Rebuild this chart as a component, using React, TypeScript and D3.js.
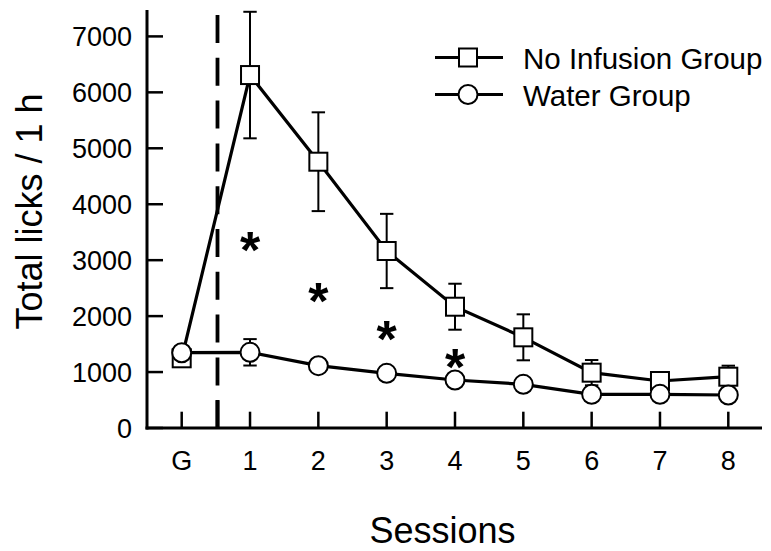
import React from "react";
import * as d3 from "d3";

const sessions = ["G", "1", "2", "3", "4", "5", "6", "7", "8"];
const noInfusionMean = [1246, 6309, 4760, 3164, 2168, 1621, 989, 840, 917];
const noInfusionErr = [0, 1131, 883, 664, 411, 411, 226, 50, 197];
const waterMean = [1346, 1353, 1114, 977, 858, 781, 602, 602, 590];
const waterErr = [0, 236, 60, 40, 40, 40, 30, 30, 30];
const yTicks = [0, 1000, 2000, 3000, 4000, 5000, 6000, 7000];
const asteriskSessions = [1, 2, 3, 4];
const asteriskValues = [3330, 2436, 1751, 1251];
const legendLabels = ["No Infusion Group", "Water Group"];

const W = 771;
const H = 551;
const FONT = "'Liberation Sans', Arial, Helvetica, sans-serif";

export default function App() {
  const x = d3.scaleLinear().domain([0, 8]).range([181.7, 728.3]);
  const y = d3.scaleLinear().domain([0, 7000]).range([428, 36.4]);
  const axisLeft = 147;
  const axisRight = 762;
  const axisTop = y(7470);
  const base = y(0);

  const line = d3
    .line<number>()
    .x((_, i) => x(i))
    .y((v) => y(v));

  const sqSide = 18;
  const r = 9.5;
  const capHalf = 6.7;

  const errBars = (means: number[], errs: number[], key: string) =>
    means.map((m, i) =>
      errs[i] > 0 ? (
        <g key={key + i} stroke="#000" strokeWidth={2}>
          <line x1={x(i)} x2={x(i)} y1={y(m + errs[i])} y2={y(m - errs[i])} />
          <line x1={x(i) - capHalf} x2={x(i) + capHalf} y1={y(m + errs[i])} y2={y(m + errs[i])} />
          <line x1={x(i) - capHalf} x2={x(i) + capHalf} y1={y(m - errs[i])} y2={y(m - errs[i])} />
        </g>
      ) : null
    );

  const astFs = 52;

  return (
    <svg
      width={W}
      height={H}
      style={{ position: "absolute", left: 0, top: 0, background: "#fff" }}
      fontFamily={FONT}
    >
      <rect x={0} y={0} width={W} height={H} fill="#fff" />
      {/* dashed separator */}
      <line
        x1={217.5}
        x2={217.5}
        y1={15}
        y2={base}
        stroke="#000"
        strokeWidth={3.8}
        strokeDasharray="28,14.8"
      />
      {/* axes */}
      <line x1={axisLeft} x2={axisLeft} y1={axisTop} y2={base + 1.5} stroke="#000" strokeWidth={3} />
      <line x1={axisLeft - 1.5} x2={axisRight} y1={base} y2={base} stroke="#000" strokeWidth={3} />
      {yTicks.map((t) => (
        <g key={"yt" + t}>
          <line x1={axisLeft} x2={163} y1={y(t)} y2={y(t)} stroke="#000" strokeWidth={2.5} />
          <text x={132} y={y(t) + 9.5} textAnchor="end" fontSize={27} fill="#000">
            {t}
          </text>
        </g>
      ))}
      {sessions.map((s, i) => (
        <g key={"xt" + s}>
          <line x1={x(i)} x2={x(i)} y1={411.7} y2={base} stroke="#000" strokeWidth={2.5} />
          <text x={x(i)} y={470} textAnchor="middle" fontSize={27} fill="#000">
            {s}
          </text>
        </g>
      ))}
      <line x1={217.5} x2={217.5} y1={400} y2={base} stroke="#000" strokeWidth={3.8} />
      {/* axis titles */}
      <text x={442.5} y={543} textAnchor="middle" fontSize={36} fill="#000">
        Sessions
      </text>
      <text
        transform={`translate(42,${211.5}) rotate(-90)`}
        textAnchor="middle"
        fontSize={36}
        fill="#000"
      >
        Total licks / 1 h
      </text>
      {/* No infusion series */}
      {errBars(noInfusionMean, noInfusionErr, "ne")}
      <path d={line(noInfusionMean) || ""} fill="none" stroke="#000" strokeWidth={3.2} />
      {noInfusionMean.map((m, i) => (
        <rect
          key={"sq" + i}
          x={x(i) - sqSide / 2}
          y={y(m) - sqSide / 2}
          width={sqSide}
          height={sqSide}
          fill="#fff"
          stroke="#000"
          strokeWidth={2}
        />
      ))}
      {/* Water series */}
      {errBars(waterMean, waterErr, "we")}
      <path d={line(waterMean) || ""} fill="none" stroke="#000" strokeWidth={3.2} />
      {waterMean.map((m, i) => (
        <circle key={"ci" + i} cx={x(i)} cy={y(m)} r={r} fill="#fff" stroke="#000" strokeWidth={2} />
      ))}
      {/* asterisks */}
      {asteriskSessions.map((s, i) => (
        <text
          key={"ast" + i}
          x={x(s)}
          y={y(asteriskValues[i]) + astFs * 0.515}
          textAnchor="middle"
          fontSize={astFs}
          fontWeight="bold"
          fill="#000"
        >
          *
        </text>
      ))}
      {/* legend */}
      {legendLabels.map((lab, i) => {
        const ly = i === 0 ? 57.5 : 94.5;
        return (
          <g key={"lg" + i}>
            <line x1={435} x2={503} y1={ly} y2={ly} stroke="#000" strokeWidth={3.2} />
            {i === 0 ? (
              <rect x={468 - sqSide / 2} y={ly - sqSide / 2} width={sqSide} height={sqSide} fill="#fff" stroke="#000" strokeWidth={2} />
            ) : (
              <circle cx={468} cy={ly} r={r} fill="#fff" stroke="#000" strokeWidth={2} />
            )}
            <text x={523} y={ly + 11} fontSize={29.5} fill="#000">
              {lab}
            </text>
          </g>
        );
      })}
    </svg>
  );
}
